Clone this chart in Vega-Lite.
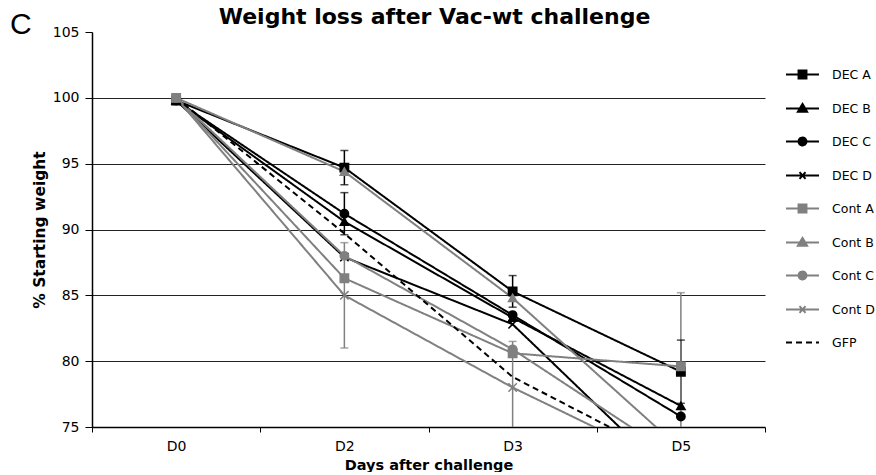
{
  "$schema": "https://vega.github.io/schema/vega-lite/v6.json",
  "padding": {"left": 9, "top": 6, "right": 0, "bottom": 0},
  "background": "white",
  "title": {"text": "C", "orient": "left", "anchor": "end", "angle": 0, "font": "Liberation Sans", "fontSize": 30, "fontWeight": "normal", "color": "#000000", "offset": -21, "baseline": "top", "dy": 4},
  "config": {
    "view": {"stroke": null},
    "font": "DejaVu Sans",
    "axis": {"labelColor": "#000000", "titleColor": "#000000", "domainColor": "#000000", "tickColor": "#000000", "labelFont": "DejaVu Sans", "titleFont": "DejaVu Sans"}
  },
  "vconcat": [
    {
      "title": {"text": "Weight loss after Vac-wt challenge", "font": "DejaVu Sans", "fontSize": 22, "fontWeight": "bold", "color": "#000000", "anchor": "middle", "offset": -4, "dx": 6},
      "width": 673,
      "height": 395,
      "data": {
        "values": [
          {"series": "DEC A", "day": "D0", "value": 99.8, "lo": null, "hi": null},
          {"series": "DEC A", "day": "D2", "value": 94.7, "lo": 93.4, "hi": 96.0},
          {"series": "DEC A", "day": "D3", "value": 85.3, "lo": 84.1, "hi": 86.5},
          {"series": "DEC A", "day": "D5", "value": 79.2, "lo": 76.8, "hi": 81.6},
          {"series": "DEC B", "day": "D0", "value": 99.8, "lo": null, "hi": null},
          {"series": "DEC B", "day": "D2", "value": 90.6, "lo": null, "hi": null},
          {"series": "DEC B", "day": "D3", "value": 83.3, "lo": null, "hi": null},
          {"series": "DEC B", "day": "D5", "value": 76.6, "lo": null, "hi": null},
          {"series": "DEC C", "day": "D0", "value": 99.8, "lo": null, "hi": null},
          {"series": "DEC C", "day": "D2", "value": 91.2, "lo": 89.6, "hi": 92.8},
          {"series": "DEC C", "day": "D3", "value": 83.5, "lo": null, "hi": null},
          {"series": "DEC C", "day": "D5", "value": 75.8, "lo": null, "hi": null},
          {"series": "DEC D", "day": "D0", "value": 99.8, "lo": null, "hi": null},
          {"series": "DEC D", "day": "D2", "value": 87.9, "lo": null, "hi": null},
          {"series": "DEC D", "day": "D3", "value": 82.8, "lo": null, "hi": null},
          {"series": "DEC D", "day": "D5", "value": 70.5, "lo": null, "hi": null},
          {"series": "Cont A", "day": "D0", "value": 100.0, "lo": null, "hi": null},
          {"series": "Cont A", "day": "D2", "value": 86.3, "lo": null, "hi": null},
          {"series": "Cont A", "day": "D3", "value": 80.6, "lo": null, "hi": null},
          {"series": "Cont A", "day": "D5", "value": 79.6, "lo": 74.0, "hi": 85.2},
          {"series": "Cont B", "day": "D0", "value": 100.0, "lo": null, "hi": null},
          {"series": "Cont B", "day": "D2", "value": 94.4, "lo": null, "hi": null},
          {"series": "Cont B", "day": "D3", "value": 84.8, "lo": null, "hi": null},
          {"series": "Cont B", "day": "D5", "value": 73.3, "lo": null, "hi": null},
          {"series": "Cont C", "day": "D0", "value": 100.0, "lo": null, "hi": null},
          {"series": "Cont C", "day": "D2", "value": 88.0, "lo": null, "hi": null},
          {"series": "Cont C", "day": "D3", "value": 80.9, "lo": null, "hi": null},
          {"series": "Cont C", "day": "D5", "value": 72.5, "lo": null, "hi": null},
          {"series": "Cont D", "day": "D0", "value": 100.0, "lo": null, "hi": null},
          {"series": "Cont D", "day": "D2", "value": 85.0, "lo": 81.0, "hi": 89.0},
          {"series": "Cont D", "day": "D3", "value": 78.0, "lo": 74.5, "hi": 81.5},
          {"series": "Cont D", "day": "D5", "value": 71.8, "lo": null, "hi": null},
          {"series": "GFP", "day": "D0", "value": 100.0, "lo": null, "hi": null},
          {"series": "GFP", "day": "D2", "value": 89.7, "lo": null, "hi": null},
          {"series": "GFP", "day": "D3", "value": 78.8, "lo": null, "hi": null},
          {"series": "GFP", "day": "D5", "value": 72.2, "lo": null, "hi": null}
        ]
      },
      "encoding": {
        "x": {
          "field": "day", "type": "nominal", "sort": ["D0", "D2", "D3", "D5"], "bandPosition": 0.5,
          "scale": {"type": "band", "paddingInner": 0, "paddingOuter": 0},
          "axis": {"title": "Days after challenge", "titleFontSize": 14.5, "titleFontWeight": "bold", "titlePadding": 5, "labelAngle": 0, "labelFontSize": 14, "labelPadding": 7, "tickBand": "extent", "tickSize": 5, "domainWidth": 1.5, "grid": false}
        }
      },
      "layer": [
        {
          "transform": [{"filter": "datum.lo != null"}],
          "mark": {"type": "rule", "strokeWidth": 1.5, "clip": true},
          "encoding": {
            "y": {"field": "lo", "type": "quantitative"},
            "y2": {"field": "hi"},
            "color": {"field": "series", "type": "nominal"}
          }
        },
        {
          "transform": [{"filter": "datum.lo != null"}],
          "mark": {"type": "tick", "size": 8, "thickness": 1.5, "clip": true},
          "encoding": {
            "y": {"field": "lo", "type": "quantitative"},
            "color": {"field": "series", "type": "nominal"}
          }
        },
        {
          "transform": [{"filter": "datum.lo != null"}],
          "mark": {"type": "tick", "size": 8, "thickness": 1.5, "clip": true},
          "encoding": {
            "y": {"field": "hi", "type": "quantitative"},
            "color": {"field": "series", "type": "nominal"}
          }
        },
        {
          "mark": {"type": "line", "strokeWidth": 2, "clip": true},
          "encoding": {
            "y": {
              "field": "value", "type": "quantitative",
              "scale": {"domain": [75, 105], "nice": false, "zero": false},
              "axis": {
                "title": "% Starting weight", "titleFontSize": 15.5, "titleFontWeight": "bold", "titlePadding": 5,
                "values": [75, 80, 85, 90, 95, 100, 105], "labelFontSize": 14, "labelPadding": 6, "tickSize": 7,
                "domainWidth": 1.5, "grid": true, "gridColor": "#222222", "gridWidth": 1.2,
                "gridOpacity": {"condition": {"test": "datum.value == 105 || datum.value == 75", "value": 0}, "value": 1}
              }
            },
            "color": {
              "field": "series", "type": "nominal",
              "scale": {
                "domain": ["DEC A", "DEC B", "DEC C", "DEC D", "Cont A", "Cont B", "Cont C", "Cont D", "GFP"],
                "range": ["#000000", "#000000", "#000000", "#000000", "#808080", "#808080", "#808080", "#808080", "#000000"]
              },
              "legend": {
                "title": null, "orient": "right", "offset": -6, "padding": 25,
                "symbolSize": 1089, "symbolType": "stroke", "symbolStrokeWidth": 2,
                "labelFontSize": 12.5, "labelFont": "DejaVu Sans", "labelColor": "#000000", "labelOffset": 12,
                "rowPadding": 8, "symbolOffset": 0,
                "encode": {
                  "symbols": {
                    "update": {
                      "shape": {"signal": "(datum.value == 'DEC A' || datum.value == 'Cont A') ? 'M-1,0H1M-0.24,-0.24H0.24V0.24H-0.24Z' : (datum.value == 'DEC B' || datum.value == 'Cont B') ? 'M-1,0H1M0,-0.28L0.28,0.2H-0.28Z' : (datum.value == 'DEC C' || datum.value == 'Cont C') ? 'M-1,0H1M-0.24,0A0.24,0.24 0 1,0 0.24,0A0.24,0.24 0 1,0 -0.24,0Z' : (datum.value == 'DEC D' || datum.value == 'Cont D') ? 'M-1,0H1M-0.18,-0.2L0.18,0.2M-0.18,0.2L0.18,-0.2' : 'M-1,0H1'"},
                      "fill": {"signal": "indexof(datum.value, 'Cont') == 0 ? '#808080' : '#000000'"},
                      "stroke": {"signal": "indexof(datum.value, 'Cont') == 0 ? '#808080' : '#000000'"},
                      "strokeDash": {"signal": "datum.value == 'GFP' ? [5, 3] : [1, 0]"},
                      "strokeWidth": {"value": 2},
                      "size": {"value": 1089},
                      "opacity": {"value": 1},
                      "fillOpacity": {"value": 1}
                    }
                  }
                }
              }
            },
            "strokeDash": {
              "field": "series", "type": "nominal",
              "scale": {
                "domain": ["DEC A", "DEC B", "DEC C", "DEC D", "Cont A", "Cont B", "Cont C", "Cont D", "GFP"],
                "range": [[1, 0], [1, 0], [1, 0], [1, 0], [1, 0], [1, 0], [1, 0], [1, 0], [6, 4]]
              },
              "legend": null
            }
          }
        },
        {
          "transform": [{"filter": "datum.series != 'GFP'"}],
          "mark": {"type": "point", "filled": true, "size": 70, "opacity": 1, "strokeWidth": 1.5, "clip": true},
          "encoding": {
            "y": {"field": "value", "type": "quantitative"},
            "color": {"field": "series", "type": "nominal"},
            "stroke": {
              "field": "series", "type": "nominal",
              "scale": {
                "domain": ["DEC A", "DEC B", "DEC C", "DEC D", "Cont A", "Cont B", "Cont C", "Cont D"],
                "range": ["#000000", "#000000", "#000000", "#000000", "#808080", "#808080", "#808080", "#808080"]
              },
              "legend": null
            },
            "shape": {
              "field": "series", "type": "nominal",
              "scale": {
                "domain": ["DEC A", "DEC B", "DEC C", "DEC D", "Cont A", "Cont B", "Cont C", "Cont D"],
                "range": ["square", "triangle-up", "circle", "M-1,-1L1,1M-1,1L1,-1", "square", "triangle-up", "circle", "M-1,-1L1,1M-1,1L1,-1"]
              },
              "legend": null
            }
          }
        }
      ]
    }
  ]
}
